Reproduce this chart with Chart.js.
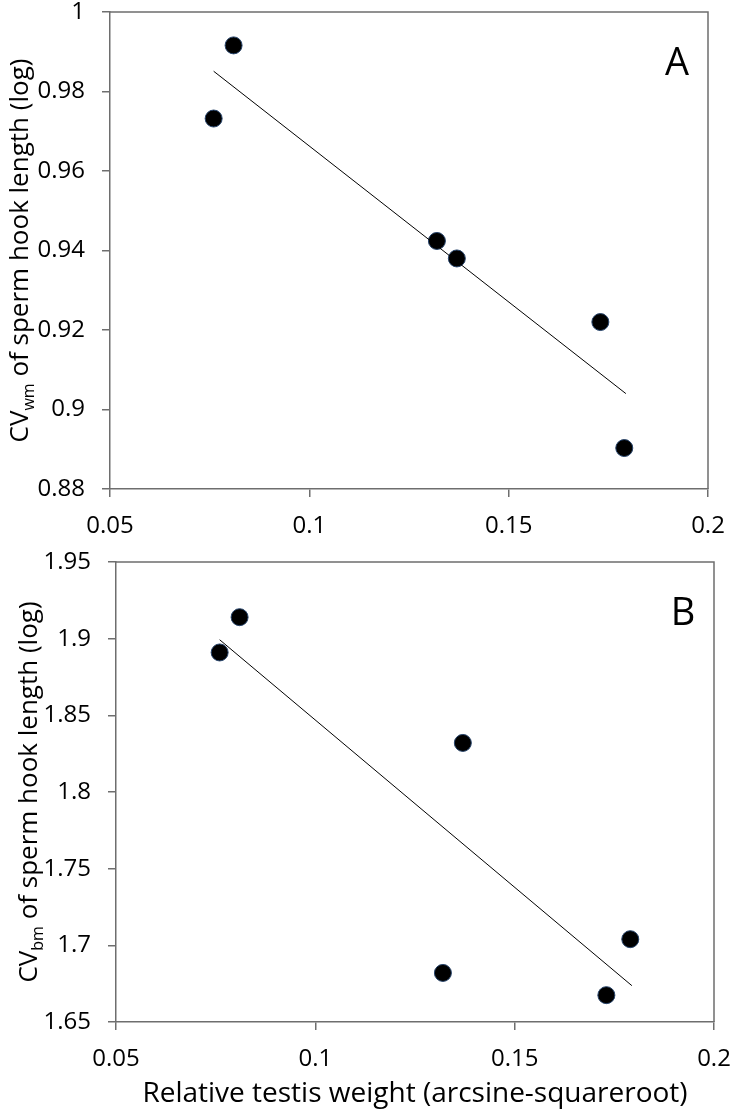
<!DOCTYPE html>
<html lang="en">
<head>
<meta charset="UTF-8" />
<title>CV of sperm hook length vs relative testis weight</title>
<script src="https://cdn.jsdelivr.net/npm/chart.js@4.4.1/dist/chart.umd.min.js"></script>
<style>
  html, body { margin: 0; padding: 0; background: #fff; }
  canvas { display: block; }
</style>
</head>
<body>
<canvas id="chartA" width="736" height="545"></canvas>
<canvas id="chartB" width="736" height="574"></canvas>
<script>
// relative testis weight (arcsine-squareroot), same species in both panels
const testisWeight = [0.076, 0.081, 0.132, 0.137, 0.173, 0.179];
// panel A: CV within males (log)
const cvWithin = [0.9732, 0.9916, 0.9424, 0.938, 0.922, 0.8903];
// panel B: CV between males (log)
const cvBetween = [1.891, 1.914, 1.682, 1.832, 1.6675, 1.704];

// regression line end points
const trendX = [0.076, 0.1794];
const trendWithin = [0.9851, 0.904];
const trendBetween = [1.8993, 1.6737];

// tick labels
const xTicks = [0.05, 0.1, 0.15, 0.2];
const yTicksA = [0.88, 0.9, 0.92, 0.94, 0.96, 0.98, 1];
const yTicksB = [1.65, 1.7, 1.75, 1.8, 1.85, 1.9, 1.95];

const FONT = '"Open Sans", sans-serif';
const AXIS = "#6e6e6e";
Chart.defaults.font.family = FONT;
Chart.defaults.color = "#000";

// frame (top + right), panel letter and y title with subscript
const panelDecor = {
	id: "panelDecor",
	afterDraw(chart, args, opts) {
		const { ctx, chartArea: ca } = chart;
		ctx.save();
		ctx.strokeStyle = AXIS;
		ctx.lineWidth = 1.5;
		ctx.beginPath();
		ctx.moveTo(ca.left, ca.top);
		ctx.lineTo(ca.right, ca.top);
		ctx.lineTo(ca.right, ca.bottom);
		ctx.stroke();

		ctx.fillStyle = "#000";
		ctx.font = "38px " + FONT;
		ctx.textAlign = "center";
		ctx.textBaseline = "middle";
		ctx.fillText(opts.letter, ca.right - 31, ca.top + 52);

		// rotated y title
		ctx.translate(opts.titleX, (ca.top + ca.bottom) / 2);
		ctx.rotate(-Math.PI / 2);
		ctx.textAlign = "left";
		ctx.textBaseline = "alphabetic";
		const big = opts.titleSize + "px " + FONT;
		const small = Math.round(opts.titleSize * 0.62) + "px " + FONT;
		const parts = [
			{ t: "CV", f: big, dy: 0 },
			{ t: opts.sub, f: small, dy: 6 },
			{ t: " of sperm hook length (log)", f: big, dy: 0 },
		];
		let total = 0;
		parts.forEach((p) => {
			ctx.font = p.f;
			p.w = ctx.measureText(p.t).width;
			total += p.w;
		});
		let x = -total / 2;
		const base = opts.titleSize * 0.36;
		parts.forEach((p) => {
			ctx.font = p.f;
			ctx.fillText(p.t, x, base + p.dy);
			x += p.w;
		});
		ctx.restore();
	},
};

function makeChart(id, cfg) {
	new Chart(document.getElementById(id), {
		type: "scatter",
		data: {
			datasets: [
				{
					type: "line",
					data: trendX.map((x, i) => ({ x: x, y: cfg.trend[i] })),
					borderColor: "#000",
					borderWidth: 1,
					pointRadius: 0,
					tension: 0,
					fill: false,
				},
				{
					data: testisWeight.map((x, i) => ({ x: x, y: cfg.values[i] })),
					pointRadius: 8.5,
					pointBackgroundColor: "#000",
					pointBorderColor: "#27446b",
					pointBorderWidth: 1,
				},
			],
		},
		options: {
			responsive: false,
			devicePixelRatio: 1,
			animation: false,
			events: [],
			layout: { padding: { left: 0, right: cfg.padRight, top: cfg.padTop, bottom: 0 } },
			scales: {
				x: {
					type: "linear",
					min: 0.05,
					max: 0.2,
					afterBuildTicks: (s) => {
						s.ticks = xTicks.map((v) => ({ value: v }));
					},
					afterFit: (s) => {
						s.height = cfg.xHeight;
						s.paddingLeft = 0;
						s.paddingRight = 0;
					},
					ticks: { padding: 15, font: { size: 24 }, callback: (v) => String(v) },
					grid: { drawOnChartArea: false, tickLength: 8, color: AXIS, lineWidth: 1.5 },
					border: { color: AXIS, width: 1.5 },
					title: {
						display: !!cfg.xTitle,
						text: cfg.xTitle || "",
						font: { size: 28 },
						padding: { top: 0, bottom: 8 },
					},
				},
				y: {
					min: cfg.yTicks[0],
					max: cfg.yTicks[cfg.yTicks.length - 1],
					afterBuildTicks: (s) => {
						s.ticks = cfg.yTicks.map((v) => ({ value: v }));
					},
					afterFit: (s) => {
						s.width = cfg.yWidth;
						s.paddingTop = 0;
						s.paddingBottom = 0;
					},
					ticks: { padding: 17, font: { size: 24 }, callback: (v) => String(v) },
					grid: { drawOnChartArea: false, tickLength: 8, color: AXIS, lineWidth: 1.5 },
					border: { color: AXIS, width: 1.5 },
				},
			},
			plugins: {
				legend: { display: false },
				tooltip: { enabled: false },
				panelDecor: { letter: cfg.letter, sub: cfg.sub, titleX: cfg.titleX, titleSize: 26 },
			},
		},
		plugins: [panelDecor],
	});
}

makeChart("chartA", {
	values: cvWithin,
	trend: trendWithin,
	yTicks: yTicksA,
	letter: "A",
	sub: "wm",
	titleX: 19,
	yWidth: 110,
	padRight: 28,
	padTop: 12,
	xHeight: 56,
});

makeChart("chartB", {
	values: cvBetween,
	trend: trendBetween,
	yTicks: yTicksB,
	letter: "B",
	sub: "bm",
	titleX: 28,
	yWidth: 116,
	padRight: 22,
	padTop: 17,
	xHeight: 97,
	xTitle: "Relative testis weight (arcsine-squareroot)",
});
</script>
</body>
</html>
